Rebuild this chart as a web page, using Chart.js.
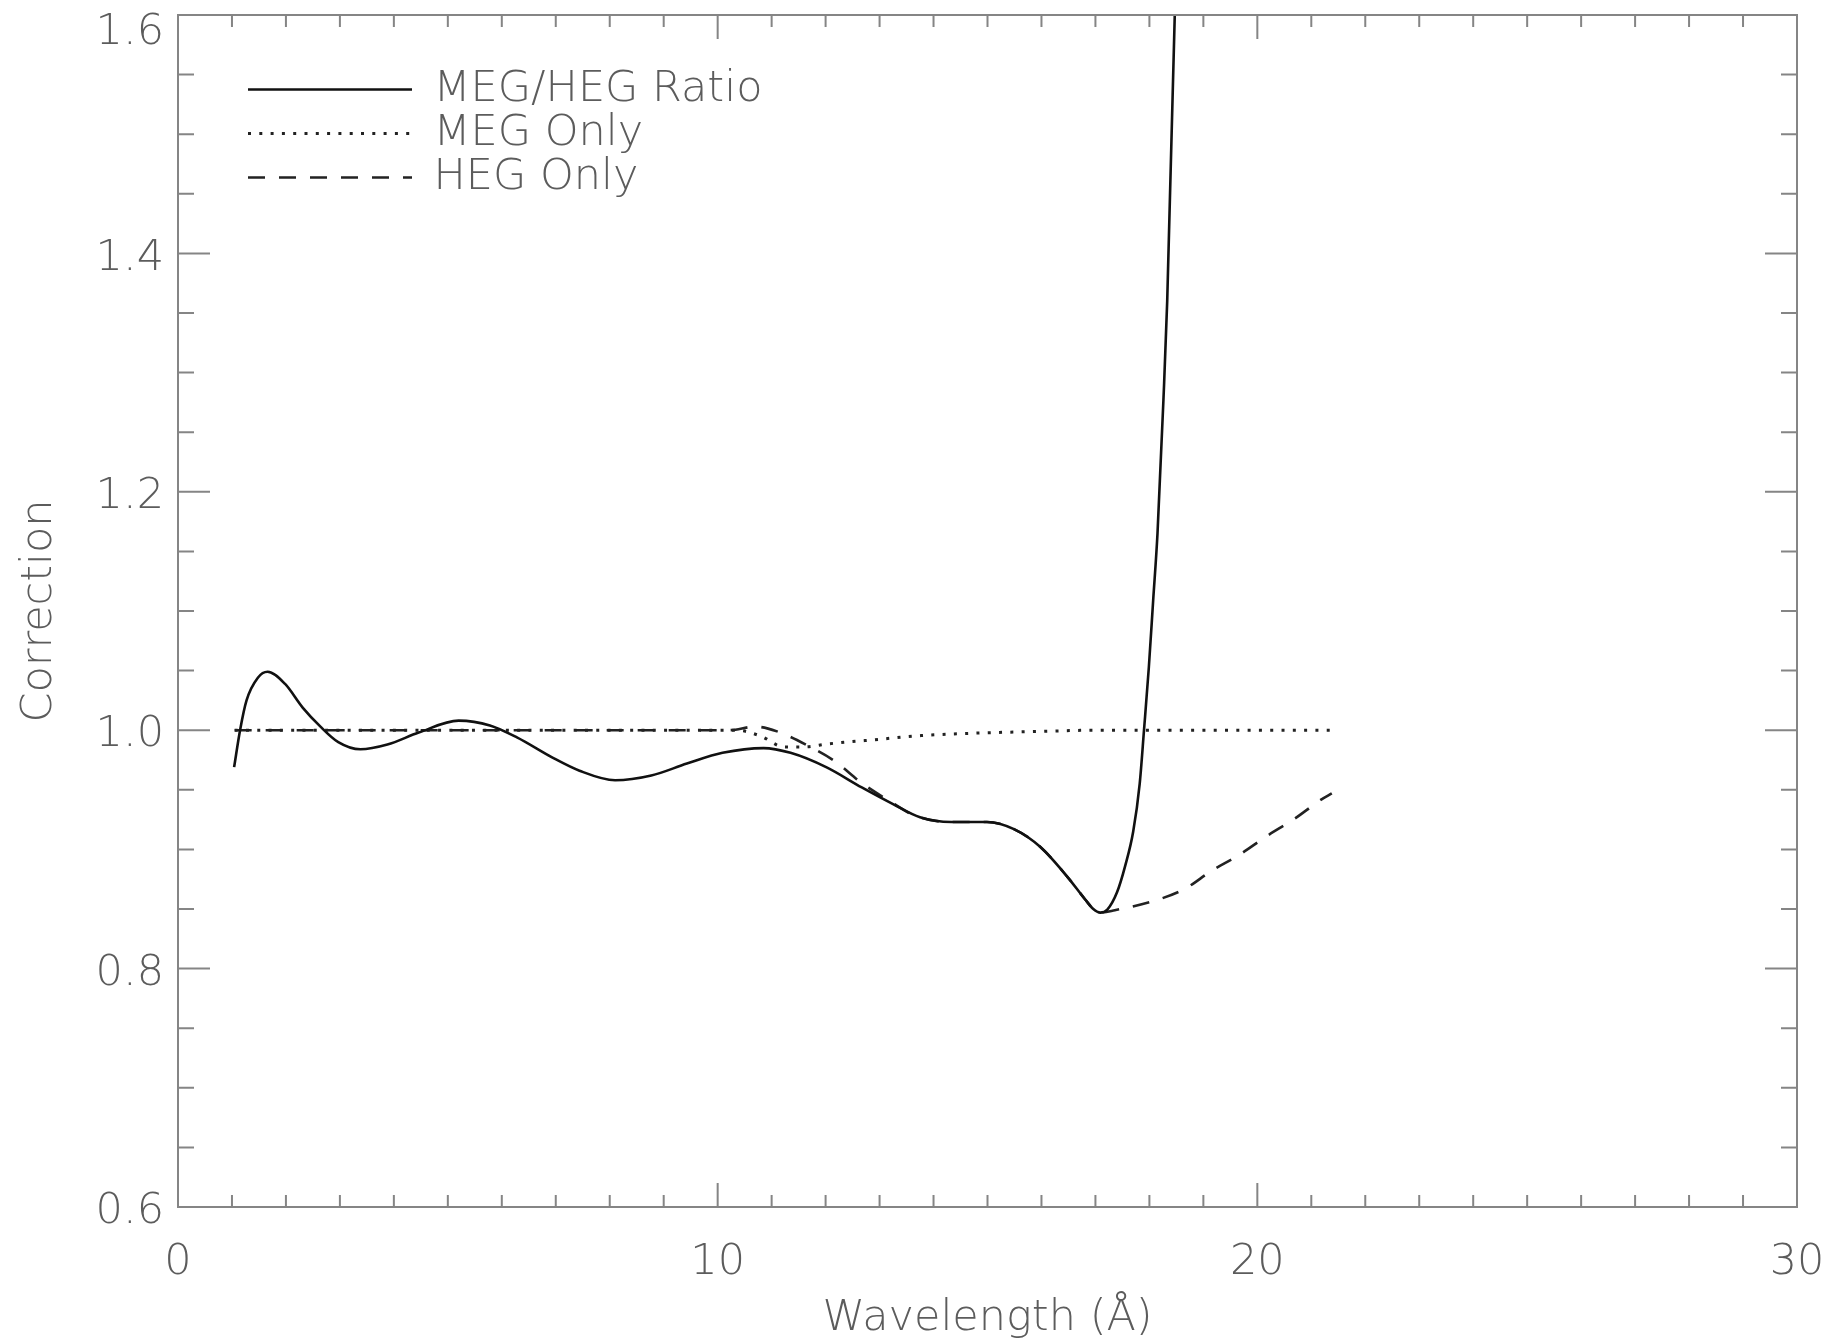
<!DOCTYPE html>
<html lang="en">
<head>
  <meta charset="UTF-8">
  <title>MEG/HEG Correction</title>
  <style>
    body, html {
      margin: 0;
      padding: 0;
      background: #fff;
    }
    .chart-box {
      position: relative;
      width: 1842px;
      height: 1339px;
    }
  </style>
</head>
<body>
  <div class="chart-box">
    <canvas id="corrChart"></canvas>
  </div>

  <script src="https://cdn.jsdelivr.net/npm/chart.js@4"></script>
  <script>
    // MEG/HEG ratio (solid)
    var ratioWave  = [1.04, 1.15, 1.27, 1.48, 1.66, 1.98, 2.31, 2.64, 2.97, 3.38, 3.88, 4.46, 5.20, 5.78, 6.28, 6.94, 7.44, 8.10, 8.77, 9.43, 10.09, 10.85, 11.35, 12.01, 12.67, 13.25, 13.75, 14.33, 14.99, 15.49, 15.98, 16.48, 16.81, 16.95, 17.09, 17.22, 17.40, 17.55, 17.70, 17.82, 17.90, 17.99, 18.07, 18.15, 18.26, 18.33, 18.47, 18.52];
    var ratioValue = [0.969, 1.000, 1.025, 1.044, 1.049, 1.039, 1.019, 1.003, 0.990, 0.984, 0.988, 0.998, 1.008, 1.004, 0.994, 0.977, 0.966, 0.958, 0.962, 0.972, 0.981, 0.985, 0.981, 0.969, 0.952, 0.938, 0.927, 0.923, 0.923, 0.917, 0.902, 0.877, 0.858, 0.8505, 0.847, 0.8495, 0.864, 0.886, 0.915, 0.955, 1.000, 1.053, 1.109, 1.165, 1.277, 1.360, 1.600, 1.700];

    // MEG only (dotted)
    var megWave  = [1.05, 10.35, 10.80, 11.23, 11.60, 12.04, 12.91, 13.77, 14.76, 16.00, 17.00, 21.38];
    var megValue = [1.000, 1.000, 0.995, 0.986, 0.986, 0.9885, 0.992, 0.9955, 0.9975, 0.999, 1.000, 1.000];

    // HEG only (dashed)
    var hegWave  = [1.05, 10.20, 10.70, 11.10, 11.67, 12.17, 12.66, 13.17, 13.67, 14.33, 14.99, 15.49, 15.98, 16.48, 16.81, 16.95, 17.09, 17.36, 18.10, 18.66, 19.15, 19.65, 20.17, 20.70, 21.19, 21.38];
    var hegValue = [1.000, 1.000, 1.003, 0.999, 0.987, 0.974, 0.956, 0.941, 0.928, 0.923, 0.923, 0.917, 0.902, 0.877, 0.858, 0.8505, 0.847, 0.849, 0.857, 0.867, 0.882, 0.895, 0.911, 0.926, 0.942, 0.947];

    var xTicks = [0, 10, 20, 30];
    var yTicks = [0.6, 0.8, 1.0, 1.2, 1.4, 1.6];
    var xMinorStep = 1;
    var yMinorStep = 0.05;

    var textColor = '#5c5c5c';
    var frameColor = '#858585';
    var font43 = { family: "'DejaVu Sans', sans-serif", size: 43, weight: '200' };

    function toPoints(xs, ys) {
      return xs.map(function (x, i) { return { x: x, y: ys[i] }; });
    }

    // box round the plot with inward ticks on all four sides
    var frameTicks = {
      id: 'frameTicks',
      afterDatasetsDraw: function (chart) {
        var ctx = chart.ctx, a = chart.chartArea;
        var xs = chart.scales.x, ys = chart.scales.y;
        ctx.save();
        ctx.strokeStyle = frameColor;
        ctx.lineWidth = 2;
        ctx.setLineDash([]);
        ctx.strokeRect(a.left, a.top, a.right - a.left, a.bottom - a.top);
        ctx.beginPath();
        var n = Math.round((xs.max - xs.min) / xMinorStep);
        for (var i = 0; i <= n; i++) {
          var v = xs.min + i * xMinorStep;
          var px = xs.getPixelForValue(v);
          var len = xTicks.indexOf(v) >= 0 ? 24 : 12;
          ctx.moveTo(px, a.bottom); ctx.lineTo(px, a.bottom - len);
          ctx.moveTo(px, a.top); ctx.lineTo(px, a.top + len);
        }
        var m = Math.round((ys.max - ys.min) / yMinorStep);
        for (var j = 0; j <= m; j++) {
          var py = ys.getPixelForValue(ys.min + j * yMinorStep);
          var ylen = j % 4 === 0 ? 32 : 16;
          ctx.moveTo(a.left, py); ctx.lineTo(a.left + ylen, py);
          ctx.moveTo(a.right, py); ctx.lineTo(a.right - ylen, py);
        }
        ctx.stroke();
        ctx.restore();
      }
    };

    // legend sits inside the plot, top left
    var legendInside = {
      id: 'legendInside',
      beforeLayout: function (chart) {
        var lg = chart.legend;
        if (!lg || lg.$moved) return;
        var fit = lg.fit;
        lg.fit = function () {
          fit.call(this);
          this.$h = this.height;
          this.width = 0;
        };
        lg.$moved = true;
      },
      afterLayout: function (chart) {
        var lg = chart.legend;
        lg.left = 247;
        lg.top = 67;
        lg.width = 700;
        lg.height = lg.$h;
        lg.right = lg.left + lg.width;
        lg.bottom = lg.top + lg.height;
      }
    };

    var ctx = document.getElementById('corrChart').getContext('2d');
    var corrChart = new Chart(ctx, {
      type: 'line',
      data: {
        datasets: [{
          label: 'MEG/HEG Ratio',
          data: toPoints(ratioWave, ratioValue),
          borderColor: '#111',
          borderWidth: 2.6,
          borderDash: []
        }, {
          label: 'MEG Only',
          data: toPoints(megWave, megValue),
          borderColor: '#222',
          borderWidth: 3,
          borderDash: [3, 8.3]
        }, {
          label: 'HEG Only',
          data: toPoints(hegWave, hegValue),
          borderColor: '#222',
          borderWidth: 2.6,
          borderDash: [17, 14]
        }]
      },
      options: {
        responsive: true,
        maintainAspectRatio: false,
        animation: false,
        parsing: false,
        layout: { padding: { left: 0, top: 15, right: 45, bottom: 0 } },
        elements: {
          point: { radius: 0 },
          line: { cubicInterpolationMode: 'monotone', fill: false }
        },
        scales: {
          x: {
            type: 'linear',
            min: 0,
            max: 30,
            grid: { display: false, drawTicks: false },
            border: { display: false },
            afterBuildTicks: function (s) { s.ticks = xTicks.map(function (v) { return { value: v }; }); },
            afterFit: function (s) {
              s.height = 132;
              s.paddingLeft = 0; s.paddingRight = 0;
            },
            ticks: {
              color: textColor,
              font: font43,
              padding: 30,
              maxRotation: 0,
              autoSkip: false,
              callback: function (v) { return String(v); }
            },
            title: {
              display: true,
              text: 'Wavelength (Å)',
              color: textColor,
              font: Object.assign({}, font43, { lineHeight: 0.95 }),
              padding: { top: 0, bottom: 0 }
            }
          },
          y: {
            type: 'linear',
            min: 0.6,
            max: 1.6,
            grid: { display: false, drawTicks: false },
            border: { display: false },
            afterBuildTicks: function (s) { s.ticks = yTicks.map(function (v) { return { value: v }; }); },
            afterFit: function (s) {
              s.width = 178;
              s.paddingTop = 0; s.paddingBottom = 0;
            },
            ticks: {
              color: textColor,
              padding: 14,
              labelOffset: 5,
              autoSkip: false,
              // the top label hangs just under the frame
              font: function (c) {
                return c.tick && c.tick.value === 1.6 ? Object.assign({}, font43, { lineHeight: 0.6 }) : font43;
              },
              callback: function (v) {
                var s = Number(v).toFixed(1);
                return v === 1.6 ? ['', s] : s;
              }
            },
            title: {
              display: true,
              text: 'Correction',
              color: textColor,
              font: font43,
              padding: { top: 14, bottom: 0 }
            }
          }
        },
        plugins: {
          tooltip: { enabled: false },
          legend: {
            position: 'left',
            align: 'start',
            labels: {
              color: textColor,
              font: font43,
              padding: 1,
              usePointStyle: true,
              pointStyle: 'line',
              pointStyleWidth: 164,
              generateLabels: function (chart) {
                var items = Chart.defaults.plugins.legend.labels.generateLabels(chart);
                items.forEach(function (it) {
                  var ds = chart.data.datasets[it.datasetIndex];
                  it.pointStyle = 'line';
                  it.lineDash = ds.borderDash;
                  it.lineWidth = ds.borderWidth;
                  it.strokeStyle = ds.borderColor;
                });
                return items;
              }
            }
          }
        }
      },
      plugins: [frameTicks, legendInside]
    });
  </script>
</body>
</html>
